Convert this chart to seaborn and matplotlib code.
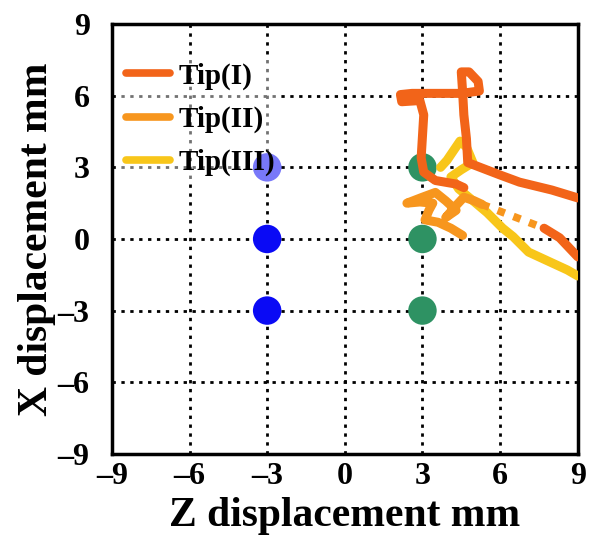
import numpy as np
import pandas as pd
import matplotlib
matplotlib.use("Agg")
import matplotlib.pyplot as plt
import seaborn as sns

# needle tip trajectories, (Z, X) in mm
tip1_z = [9.0, 8.0, 6.75, 6.0, 4.75, 4.7, 4.6, 4.55, 4.5, 4.8, 5.15, 5.2, 4.5, 3.5, 2.6, 2.15,
          2.2, 2.9, 3.05, 3.0, 2.95, 3.05, 3.5, 4.3, 4.6]
tip1_x = [1.72, 2.05, 2.38, 2.68, 3.2, 4.2, 5.2, 6.2, 7.0, 7.0, 6.6, 6.2, 6.1, 6.1, 6.1, 6.05,
          5.75, 5.8, 5.2, 4.3, 3.4, 2.8, 2.45, 2.3, 2.15]
tip1_end_z = [7.7, 8.3, 9.0]
tip1_end_x = [0.45, 0.05, -0.75]

tip2_z = [4.55, 4.1, 3.6, 3.1, 3.25, 3.4, 2.9, 2.4, 3.0, 3.5, 3.9, 4.3, 3.9, 4.3, 4.6, 5.0, 5.3]
tip2_x = [0.15, 0.45, 0.7, 0.8, 1.2, 1.5, 1.55, 1.5, 1.75, 1.95, 1.6, 1.2, 0.9, 1.4, 1.75, 1.6, 1.45]
tip2_dot_z = [5.3, 6.5, 7.7]
tip2_dot_x = [1.45, 0.95, 0.45]

tip3_z = [3.7, 3.95, 4.2, 4.45, 4.7, 4.95, 4.5, 4.1, 4.4, 4.9, 5.5, 6.1, 6.5, 7.1, 8.0, 8.6, 9.0]
tip3_x = [3.0, 3.3, 3.7, 4.1, 3.85, 3.2, 2.9, 2.6, 2.1, 1.65, 1.1, 0.45, 0.1, -0.55, -1.0, -1.3, -1.55]

# target points
blue_z = [-3, -3, -3]
blue_x = [3, 0, -3]
green_z = [3, 3, 3]
green_x = [3, 0, -3]

ticks = [-9, -6, -3, 0, 3, 6, 9]
tick_labels = ["\u20139", "\u20136", "\u20133", "0", "3", "6", "9"]

c1, c2, c3 = "#F26419", "#F7961E", "#F8C61A"

sns.set_style("white")
plt.rcParams["font.family"] = ["Liberation Serif", "DejaVu Serif"]
plt.rcParams["font.weight"] = "bold"
plt.rcParams["text.color"] = "black"

fig = plt.figure(figsize=(5.95, 5.37), dpi=100)
ax = fig.add_axes([0.188, 0.155, 0.783, 0.80])

ax.grid(True, color="black", linestyle=(0, (1.2, 2.0)), linewidth=2)
ax.set_axisbelow(True)

sns.scatterplot(x=green_z, y=green_x, color="#2E9263", s=420, edgecolor="none", ax=ax, zorder=2)
sns.scatterplot(x=blue_z, y=blue_x, color="#0A0AF5", s=420, edgecolor="none", ax=ax, zorder=2)

lw = 6.5
df3 = pd.DataFrame({"z": tip3_z, "x": tip3_x})
df2 = pd.DataFrame({"z": tip2_z, "x": tip2_x})
df1 = pd.DataFrame({"z": tip1_z, "x": tip1_x})
sns.lineplot(data=df3, x="z", y="x", sort=False, estimator=None, color=c3, lw=lw, ax=ax, zorder=3)
sns.lineplot(data=df2, x="z", y="x", sort=False, estimator=None, color=c2, lw=lw, ax=ax, zorder=4)
ax.plot(tip2_dot_z, tip2_dot_x, color=c2, lw=lw - 1, linestyle=(0, (1, 1.2)), zorder=4)
sns.lineplot(data=df1, x="z", y="x", sort=False, estimator=None, color=c1, lw=lw, ax=ax, zorder=5)
ax.plot(tip1_end_z, tip1_end_x, color=c1, lw=lw, zorder=5)

h1, = ax.plot([], [], color=c1, lw=5.5)
h2, = ax.plot([], [], color=c2, lw=5.5)
h3, = ax.plot([], [], color=c3, lw=5.5)
leg = ax.legend([h1, h2, h3], ["Tip(I)", "Tip(II)", "Tip(III)"], loc="upper left",
                bbox_to_anchor=(0.0, 0.945), frameon=True, framealpha=0.45, edgecolor="none",
                fontsize=21, handlelength=1.5, handletextpad=0.3, labelspacing=0.55,
                borderpad=0.2, borderaxespad=0.3)
leg.set_zorder(6)

ax.set_xlim(-9, 9)
ax.set_ylim(-9, 9)
ax.set_xticks(ticks)
ax.set_yticks(ticks)
ax.set_xticklabels(tick_labels, fontsize=23, fontweight="bold")
ax.set_yticklabels(tick_labels, fontsize=23, fontweight="bold")
ax.tick_params(direction="in", length=5, width=1.5, colors="black")
ax.tick_params(axis="x", pad=6)
ax.tick_params(axis="y", pad=16)
for s in ax.spines.values():
    s.set_color("black")
    s.set_linewidth(2.5)
ax.set_xlabel("Z displacement mm", fontsize=30, fontweight="bold", color="black")
ax.set_ylabel("X displacement mm", fontsize=30, fontweight="bold", color="black")
ax.xaxis.set_label_coords(0.5, -0.1)
ax.yaxis.set_label_coords(-0.12, 0.5)
ax.xaxis.label.set_va("top")

fig.savefig("out.png", dpi=100)
